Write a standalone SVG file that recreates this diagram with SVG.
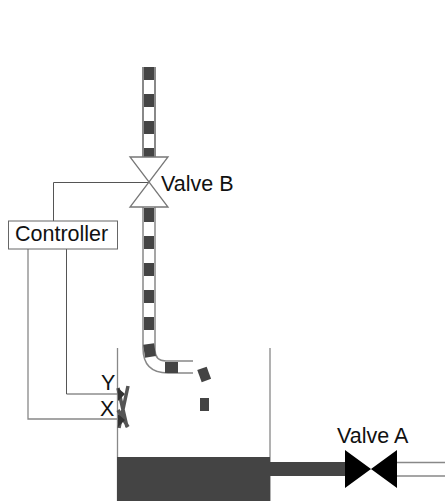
<svg xmlns="http://www.w3.org/2000/svg" width="445" height="501" viewBox="0 0 445 501">
<style>
text{font-family:"Liberation Sans",Arial,sans-serif;font-size:21.500px;fill:#111}
.pipe{fill:none;stroke:#888;stroke-width:2}
.wire{fill:none;stroke:#555;stroke-width:1}
.wire2{fill:none;stroke:#888;stroke-width:1.3}
.d{fill:#444}
.v{fill:#fff;stroke:#777;stroke-width:1.3}
</style>
<rect width="445" height="501" fill="#fff"/>
<g id="connectors">
<path class="wire" d="M53.5 221V182.5H149"/>
<path class="wire2" d="M28 249V419H117"/>
<path class="wire" d="M66.5 249V394H117"/>
</g>
<g id="pipe-upper">
<path class="pipe" d="M143 67V157M155 67V157"/>
<rect class="d" x="144" y="67" width="10" height="13"/>
<rect class="d" x="144" y="94" width="10" height="13"/>
<rect class="d" x="144" y="121" width="10" height="13"/>
<rect class="d" x="144" y="148" width="10" height="9"/>
</g>
<g id="pipe-lower">
<path class="pipe" d="M143 207V348Q143 373 168 373H193M155 207V350Q155 361 166 361H193" style="stroke-width:1.5"/>
<rect class="d" x="144" y="208" width="10" height="14"/>
<rect class="d" x="144" y="236" width="10" height="13"/>
<rect class="d" x="144" y="263" width="10" height="13"/>
<rect class="d" x="144" y="290" width="10" height="13"/>
<rect class="d" x="144" y="317" width="10" height="13"/>
<rect class="d" x="144" y="344" width="11" height="13" transform="rotate(-8 149 350)"/>
<rect class="d" x="165" y="362" width="13" height="11"/>
</g>
<g id="drops">
<rect class="d" x="199" y="368" width="10" height="13" transform="rotate(-20 204 374)"/>
<rect class="d" x="200" y="398" width="9" height="13"/>
</g>
<g id="valve-b">
<path class="v" d="M130 157H168L130 207H168Z"/>
<text x="161" y="191">Valve B</text>
</g>
<g id="controller">
<rect x="8.500" y="221" width="109" height="28" fill="#fff" stroke="#666" stroke-width="1"/>
<text x="15" y="241">Controller</text>
</g>
<g id="tank">
<path class="wire2" d="M117.500 348V501M270 348V501"/>
<rect class="d" x="117" y="457" width="153" height="44"/>
</g>
<g id="sensors">
<text x="101" y="390">Y</text>
<text x="100" y="416">X</text>
<path d="M118 388L127 427M128 386L119 428M118 410L128 427" fill="none" stroke="#555" stroke-width="3.500"/>
<path d="M118 388L125 394L118 401ZM118 414L125 420L118 427Z" fill="#333"/>
</g>
<g id="pipe-out">
<rect class="d" x="270" y="462" width="76" height="14"/>
<path class="wire2" d="M397 462.500H445M397 476H445"/>
</g>
<g id="valve-a">
<path d="M345 450L397 488V450L345 488Z" fill="#000"/>
<text x="337" y="443">Valve A</text>
</g>
</svg>
